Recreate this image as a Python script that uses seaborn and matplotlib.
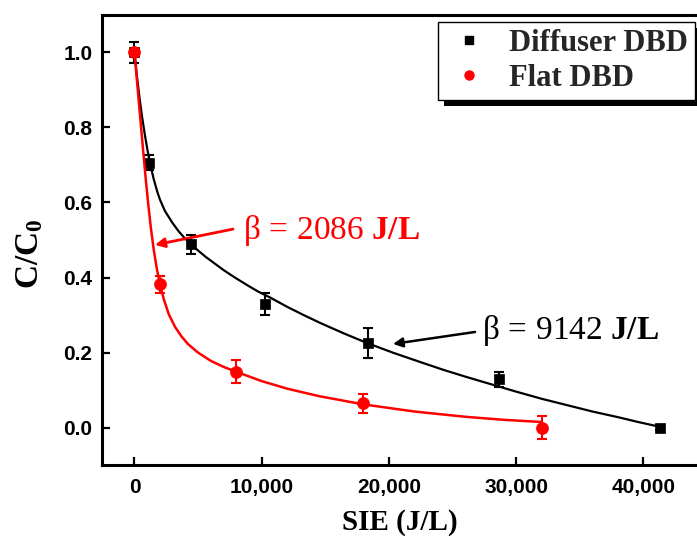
import matplotlib
matplotlib.use('Agg')
import matplotlib.pyplot as plt
import seaborn as sns
import numpy as np
from matplotlib.patches import Rectangle
from matplotlib.lines import Line2D
from matplotlib.ticker import FuncFormatter, FixedLocator
from matplotlib.transforms import IdentityTransform

# ---------------- data ----------------
sie_diffuser = [0, 1180, 4460, 10290, 18370, 28660, 41280]
c_diffuser = [1.0, 0.706, 0.489, 0.329, 0.226, 0.129, 0.0]
err_diffuser = [0.028, 0.02, 0.025, 0.03, 0.04, 0.02, 0.006]

sie_flat = [0, 1990, 7950, 17980, 32020]
c_flat = [1.0, 0.382, 0.149, 0.065, 0.0]
err_flat = [0.0, 0.022, 0.03, 0.025, 0.03]

# fitted curves
fit_diffuser_x = [0, 200, 400, 600, 800, 1000, 1200, 1500, 1800, 2000, 2400, 3000, 3500,
                  4000, 4500, 5000, 5600, 6200, 7000, 7800, 8800, 9700, 10650, 12000,
                  13300, 14600, 16400, 18250, 20300, 22450, 24200, 26000, 28000, 30000,
                  32000, 34000, 36000, 38000, 39600, 41200]
fit_diffuser_y = [1.0, 0.935, 0.878, 0.828, 0.784, 0.744, 0.708, 0.664, 0.628, 0.608, 0.577,
                  0.545, 0.522, 0.503, 0.487, 0.472, 0.455, 0.440, 0.420, 0.402, 0.381,
                  0.363, 0.347, 0.322, 0.300, 0.279, 0.252, 0.226, 0.200, 0.175, 0.155,
                  0.136, 0.116, 0.096, 0.077, 0.060, 0.043, 0.028, 0.015, 0.003]

fit_flat_x = [0, 300, 600, 900, 1100, 1300, 1500, 1750, 2000, 2300, 2700, 3200, 3700, 4200,
              5000, 6000, 7000, 8000, 10000, 12000, 14500, 18000, 22000, 26000, 29000, 32000]
fit_flat_y = [1.0, 0.885, 0.77, 0.658, 0.59, 0.53, 0.478, 0.425, 0.383, 0.343, 0.302, 0.268,
              0.243, 0.223, 0.200, 0.178, 0.162, 0.149, 0.124, 0.104, 0.084, 0.062, 0.043,
              0.029, 0.021, 0.015]

x_ticks = [0, 10000, 20000, 30000, 40000]
y_ticks = [0.0, 0.2, 0.4, 0.6, 0.8, 1.0]
series_labels = ['Diffuser DBD', 'Flat DBD']
beta_flat = r'$\mathrm{\beta}\,=\,\mathrm{2086}\ \mathbf{J/L}$'
beta_diffuser = r'$\mathrm{\beta}\,=\,\mathrm{9142}\ \mathbf{J/L}$'

# ---------------- style ----------------
sns.set_theme(style='ticks')
plt.rcParams['font.family'] = ['Liberation Sans', 'DejaVu Sans']
plt.rcParams['font.weight'] = 'bold'
plt.rcParams['mathtext.fontset'] = 'custom'
plt.rcParams['mathtext.rm'] = 'Liberation Serif:weight=normal'
plt.rcParams['mathtext.it'] = 'Liberation Serif:style=italic:weight=normal'
plt.rcParams['mathtext.bf'] = 'Liberation Serif:weight=bold'

fig = plt.figure(figsize=(6.97, 5.36), dpi=100)
ax = fig.add_axes([102 / 697, (536 - 465.2) / 536, 605 / 697, 450.4 / 536])
ax.set_facecolor('white')

# error bars
ax.errorbar(sie_diffuser, c_diffuser, yerr=err_diffuser, fmt='none', ecolor='black',
            elinewidth=1.5, capsize=3.8, capthick=1.5, zorder=3)
ax.errorbar(sie_flat, c_flat, yerr=err_flat, fmt='none', ecolor='red',
            elinewidth=1.5, capsize=3.8, capthick=1.5, zorder=5)

# fitted curves
sns.lineplot(x=fit_diffuser_x, y=fit_diffuser_y, ax=ax, color='black', lw=1.6,
             sort=False, estimator=None, zorder=3)
sns.lineplot(x=fit_flat_x, y=fit_flat_y, ax=ax, color='red', lw=1.8,
             sort=False, estimator=None, zorder=5)

# data markers
sns.scatterplot(x=sie_diffuser, y=c_diffuser, ax=ax, marker='s', s=60, color='black',
                edgecolor='black', linewidth=0.5, legend=False, zorder=4)
sns.scatterplot(x=sie_flat, y=c_flat, ax=ax, marker='o', s=75, color='red',
                edgecolor='red', linewidth=0.5, legend=False, zorder=6)

# annotations
ax.annotate('', xy=(1612, 0.487), xytext=(7744, 0.529),
            arrowprops=dict(arrowstyle='-|>', color='red', lw=2, mutation_scale=14,
                            shrinkA=0, shrinkB=0))
ax.text(8530, 0.524, beta_flat, color='red', fontsize=24, ha='left', va='center')
ax.annotate('', xy=(20322, 0.223), xytext=(26769, 0.255),
            arrowprops=dict(arrowstyle='-|>', color='black', lw=1.8, mutation_scale=14,
                            shrinkA=0, shrinkB=0))
ax.text(27319, 0.260, beta_diffuser, color='black', fontsize=24, ha='left', va='center')

# axes
ax.set_xlim(-2550, 45000)
ax.set_ylim(-0.1, 1.1)
ax.xaxis.set_major_locator(FixedLocator(x_ticks))
ax.yaxis.set_major_locator(FixedLocator(y_ticks))
ax.xaxis.set_major_formatter(FuncFormatter(lambda v, p: f'{v:,.0f}'))
ax.yaxis.set_major_formatter(FuncFormatter(lambda v, p: f'{v:.1f}'))
ax.tick_params(axis='both', direction='in', length=6, width=1.6, labelsize=15,
               colors='black', top=False, right=False)
ax.tick_params(axis='x', pad=9)
ax.tick_params(axis='y', pad=7)
for lab in ax.get_xticklabels() + ax.get_yticklabels():
    lab.set_fontweight('bold')
for s in ax.spines.values():
    s.set_linewidth(2.2)
    s.set_color('black')
    s.set_visible(True)

ax.set_xlabel('SIE (J/L)', family='Liberation Serif', fontweight='bold', fontsize=21,
              color='black')
ax.set_ylabel(r'$\mathbf{C/C_0}$', fontsize=24, color='black')
ax.xaxis.set_label_coords(0.4926, -0.097)
ax.yaxis.set_label_coords(-0.094, 0.469)

# legend
handles = [Line2D([], [], marker='s', color='black', ls='none', markersize=6),
           Line2D([], [], marker='o', color='red', ls='none', markersize=6.5)]
leg = ax.legend(handles, series_labels, loc='upper left', bbox_to_anchor=(0.5554, 0.984),
                borderaxespad=0, frameon=True, fancybox=False, edgecolor='black',
                framealpha=1, facecolor='white',
                prop=dict(family='Liberation Serif', weight='bold', size=22),
                handlelength=1.6, handletextpad=0.5, borderpad=0.22, labelspacing=0.2)
leg.get_frame().set_linewidth(1.0)
leg.set_zorder(10)

fig.canvas.draw()
bb = leg.get_window_extent()
shadow = Rectangle((bb.x0 + 6, bb.y0 - 6), bb.width, bb.height, transform=IdentityTransform(),
                   facecolor='black', edgecolor='none', zorder=9.9, clip_on=False)
ax.add_artist(shadow)

fig.savefig('out.png', dpi=100, facecolor='white')
